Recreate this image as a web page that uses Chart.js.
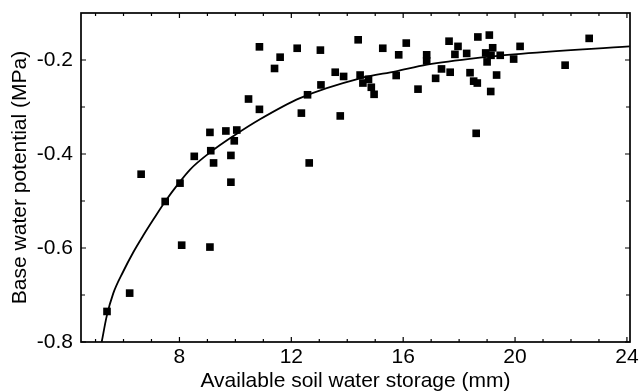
<!DOCTYPE html>
<html>
<head>
<meta charset="utf-8">
<script src="https://cdn.jsdelivr.net/npm/chart.js@4.4.1/dist/chart.umd.min.js"></script>
<style>
html,body{margin:0;padding:0;background:#fff;}
#wrap{width:639px;height:392px;position:relative;}
</style>
</head>
<body>
<div id="wrap"><canvas id="c"></canvas></div>
<script>
// Observed data: available soil water storage (mm) vs base water potential (MPa)
const storageMm = [5.41,6.22,6.63,7.49,8.02,8.08,8.53,9.09,9.12,9.22,
  9.09,9.66,10.05,9.96,9.84,9.84,10.47,10.86,10.86,11.60,
  11.40,12.21,12.36,12.58,12.64,13.04,13.06,13.57,13.87,13.75,
  14.39,15.27,15.84,16.11,14.46,14.56,14.76,14.86,14.96,15.75,
  16.53,16.84,16.84,17.16,17.37,17.68,17.64,17.96,17.85,18.27,
  18.39,18.52,18.65,18.61,18.67,19.08,18.95,19.20,19.14,19.00,
  19.34,19.13,19.47,19.95,20.18,21.79,22.65];
const potentialMPa = [-0.735,-0.696,-0.443,-0.501,-0.462,-0.594,-0.405,-0.354,-0.393,-0.419,
  -0.598,-0.351,-0.349,-0.372,-0.403,-0.460,-0.283,-0.305,-0.172,-0.194,
  -0.218,-0.175,-0.313,-0.274,-0.419,-0.179,-0.253,-0.226,-0.235,-0.319,
  -0.157,-0.175,-0.189,-0.164,-0.232,-0.249,-0.241,-0.258,-0.273,-0.233,
  -0.262,-0.189,-0.202,-0.239,-0.219,-0.226,-0.160,-0.171,-0.188,-0.186,
  -0.227,-0.245,-0.249,-0.356,-0.151,-0.147,-0.185,-0.174,-0.190,-0.204,
  -0.232,-0.267,-0.190,-0.198,-0.171,-0.211,-0.154];

// Fitted curve
const fitStorageMm = [5.22,5.40,5.63,5.99,6.35,6.71,7.06,7.49,7.99,8.38,9.13,9.92,10.88,12.31,14.46,15.74,16.85,18.74,19.96,24.1];
const fitPotentialMPa = [-0.800,-0.745,-0.697,-0.650,-0.609,-0.573,-0.540,-0.501,-0.461,-0.433,-0.395,-0.362,-0.326,-0.281,-0.239,-0.224,-0.210,-0.195,-0.188,-0.171];

// Axes
const xTickValues = [8,12,16,20,24];
const xTickLabels = ['8','12','16','20','24'];
const yTickValues = [-0.8,-0.6,-0.4,-0.2];
const yTickLabels = ['-0.8','-0.6','-0.4','-0.2'];
const xMinorValues = [5,6,7,9,10,11,13,14,15,17,18,19,21,22,23];
const yMinorValues = [-0.7,-0.5,-0.3];
const xTitle = 'Available soil water storage (mm)';
const yTitle = 'Base water potential (MPa)';

const FONT = "'Liberation Sans', Arial, Helvetica, sans-serif";

const scatterPoints = storageMm.map((v,i)=>({x:v, y:potentialMPa[i]}));
const fitPoints = fitStorageMm.map((v,i)=>({x:v, y:fitPotentialMPa[i]}));

const frameTicks = {
  id:'frameTicks',
  afterDatasetsDraw(chart){
    const {ctx, chartArea:a, scales:{x, y}} = chart;
    ctx.save();
    ctx.strokeStyle = '#000';
    ctx.lineWidth = 1.2;
    ctx.beginPath();
    const xt = (vals, len) => vals.forEach(v => {
      const px = x.getPixelForValue(v);
      ctx.moveTo(px, a.bottom); ctx.lineTo(px, a.bottom - len);
      ctx.moveTo(px, a.top); ctx.lineTo(px, a.top + len);
    });
    const yt = (vals, len) => vals.forEach(v => {
      const py = y.getPixelForValue(v);
      ctx.moveTo(a.left, py); ctx.lineTo(a.left + len, py);
      ctx.moveTo(a.right, py); ctx.lineTo(a.right - len, py);
    });
    xt(xTickValues, 5); xt(xMinorValues, 3);
    yt(yTickValues, 5); yt(yMinorValues, 4);
    ctx.stroke();
    ctx.lineWidth = 1.7;
    ctx.strokeRect(a.left, a.top, a.right - a.left, a.bottom - a.top);
    ctx.restore();
  }
};

new Chart(document.getElementById('c'), {
  type: 'scatter',
  data: {
    datasets: [
      {
        label: 'observed',
        data: scatterPoints,
        pointStyle: 'rect',
        pointRadius: 5.4,
        pointHoverRadius: 5.4,
        backgroundColor: '#000',
        borderColor: '#000',
        borderWidth: 0
      },
      {
        label: 'fit',
        type: 'line',
        data: fitPoints,
        showLine: true,
        pointRadius: 0,
        borderColor: '#000',
        borderWidth: 1.8,
        fill: false,
        cubicInterpolationMode: 'monotone'
      }
    ]
  },
  options: {
    responsive: true,
    maintainAspectRatio: false,
    animation: false,
    devicePixelRatio: 1,
    layout: { padding: { top: 13, right: 9, left: 0, bottom: 0 } },
    plugins: { legend: { display: false }, tooltip: { enabled: false } },
    scales: {
      x: {
        type: 'linear',
        min: 4.48,
        max: 24.11,
        grid: { display: false, drawTicks: false, tickLength: 0 },
        border: { display: false },
        afterBuildTicks: s => { s.ticks = xTickValues.map(v => ({value: v})); },
        ticks: {
          padding: 3,
          color: '#000',
          font: { family: FONT, size: 21 },
          maxRotation: 0,
          autoSkip: false,
          callback: (v) => { const i = xTickValues.indexOf(v); return i >= 0 ? xTickLabels[i] : ''; }
        },
        title: {
          display: true,
          text: xTitle,
          color: '#000',
          font: { family: FONT, size: 21, lineHeight: 1 },
          padding: { top: 0, bottom: 0 }
        },
        afterFit: s => { s.height = 50; s.paddingLeft = 0; s.paddingRight = 0; }
      },
      y: {
        type: 'linear',
        min: -0.8,
        max: -0.1,
        grid: { display: false, drawTicks: false, tickLength: 0 },
        border: { display: false },
        afterBuildTicks: s => { s.ticks = yTickValues.map(v => ({value: v})); },
        ticks: {
          padding: 8,
          color: '#000',
          font: { family: FONT, size: 21 },
          autoSkip: false,
          callback: (v) => { const i = yTickValues.findIndex(t => Math.abs(t - v) < 1e-9); return i >= 0 ? yTickLabels[i] : ''; }
        },
        title: {
          display: true,
          text: yTitle,
          color: '#000',
          font: { family: FONT, size: 21 },
          padding: { top: 8, bottom: 0 }
        },
        afterFit: s => { s.width = 81; s.paddingTop = 0; s.paddingBottom = 0; }
      }
    }
  },
  plugins: [frameTicks]
});
</script>
</body>
</html>
